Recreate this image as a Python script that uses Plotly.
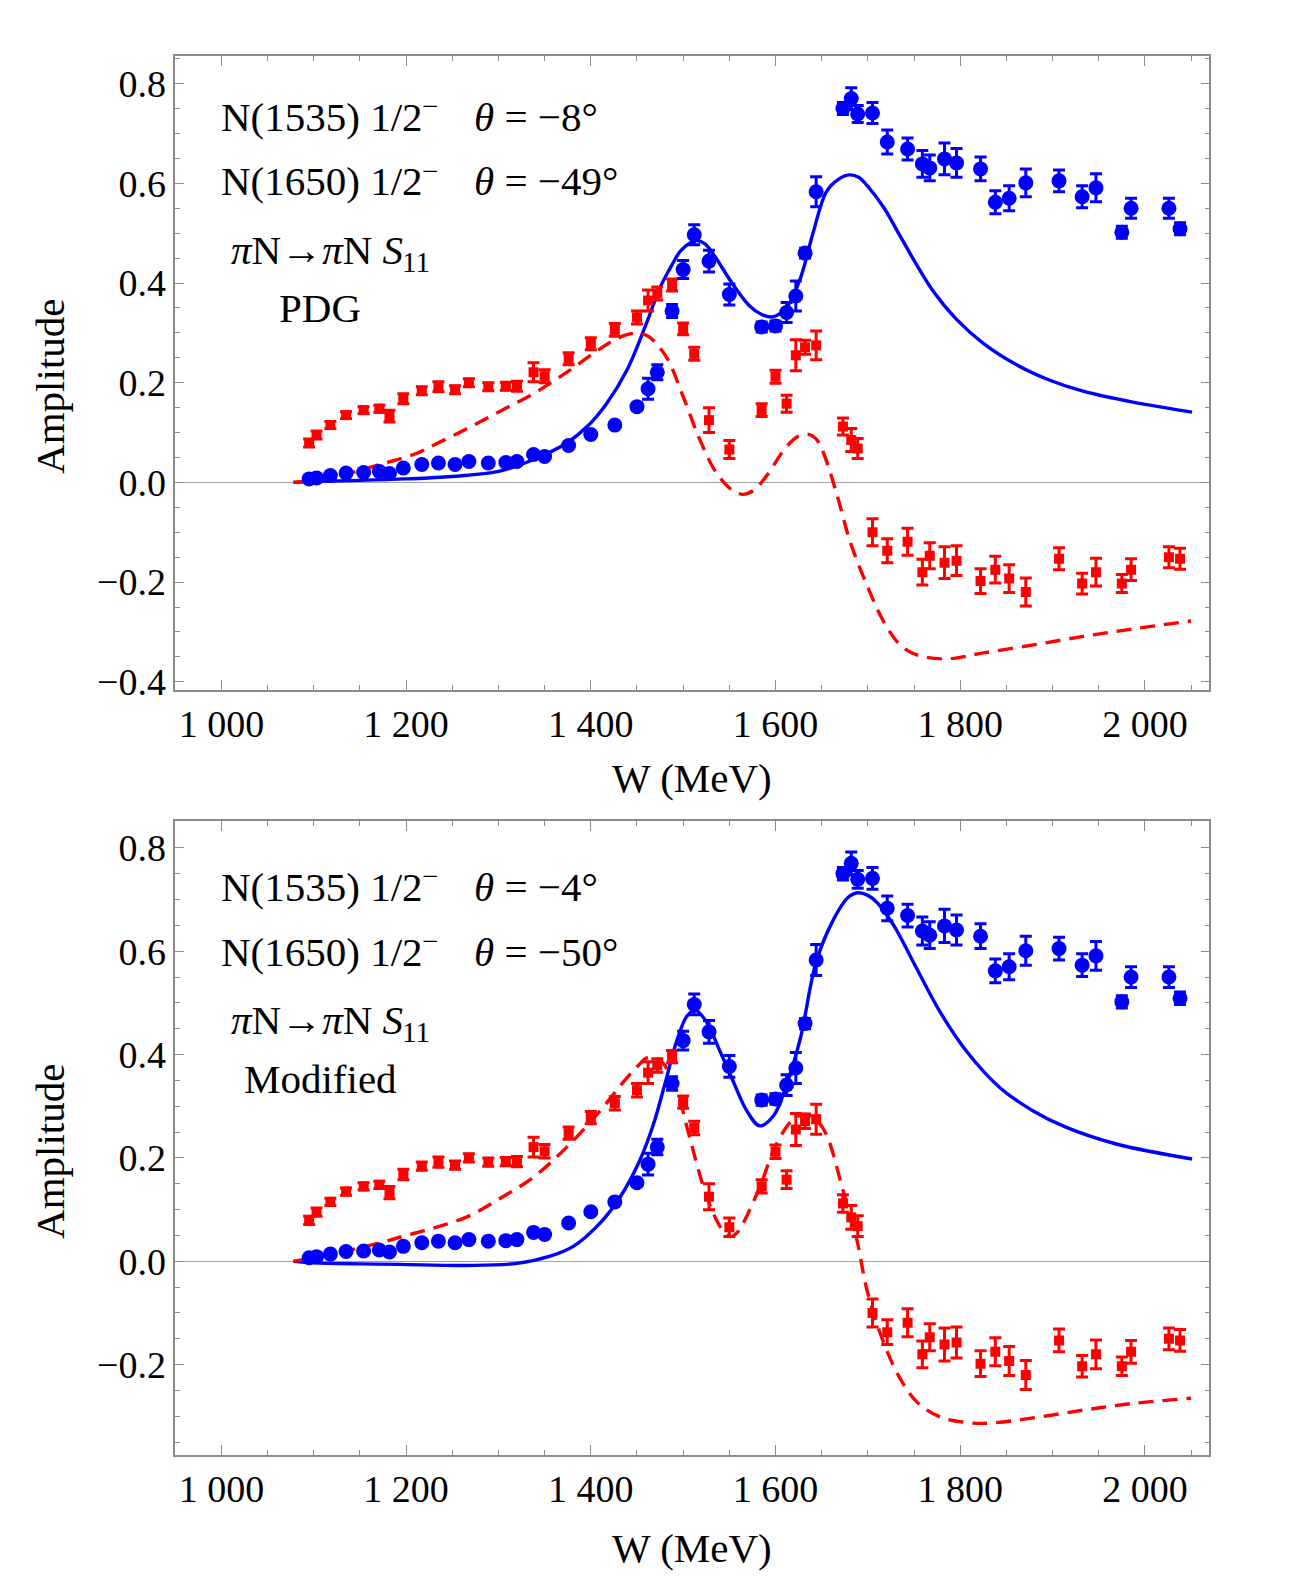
import plotly.graph_objects as go

# ---------------- data ----------------
W_data = [1095, 1103, 1118, 1135, 1154, 1171, 1182, 1197, 1217, 1235, 1253, 1268, 1289, 1308,
          1320, 1338, 1350, 1376, 1400, 1426, 1450, 1462, 1472, 1488, 1500, 1512, 1528, 1550,
          1585, 1600, 1612, 1622, 1632, 1644, 1673, 1682, 1689, 1705, 1721, 1743, 1759, 1767,
          1783, 1796, 1822, 1838, 1853, 1871, 1907, 1932, 1947, 1975, 1985, 2026, 2038]

im_data = [0.007, 0.009, 0.014, 0.019, 0.020, 0.022, 0.018, 0.029, 0.036, 0.039, 0.036, 0.042,
           0.039, 0.040, 0.042, 0.056, 0.052, 0.074, 0.096, 0.115, 0.152, 0.188, 0.221, 0.344,
           0.427, 0.497, 0.444, 0.377, 0.312, 0.314, 0.341, 0.374, 0.460, 0.583, 0.750, 0.770,
           0.739, 0.741, 0.683, 0.669, 0.639, 0.631, 0.649, 0.641, 0.629, 0.562, 0.570, 0.601,
           0.605, 0.573, 0.591, 0.502, 0.550, 0.550, 0.509]
im_err = [0.004] * 20 + [0.006, 0.021, 0.015, 0.013, 0.018, 0.020, 0.022, 0.021, 0.010, 0.010,
                         0.020, 0.030, 0.010, 0.030, 0.012, 0.022, 0.017, 0.021, 0.024, 0.022,
                         0.027, 0.026, 0.032, 0.029, 0.024, 0.023, 0.025, 0.028, 0.022, 0.022,
                         0.028, 0.012, 0.020, 0.020, 0.012]

re_data = [0.079, 0.095, 0.115, 0.135, 0.145, 0.148, 0.133, 0.168, 0.184, 0.192, 0.186, 0.200,
           0.192, 0.193, 0.193, 0.221, 0.213, 0.248, 0.278, 0.306, 0.331, 0.365, 0.379, 0.396,
           0.308, 0.258, 0.125, 0.066, 0.145, 0.212, 0.158, 0.255, 0.271, 0.275, 0.112, 0.085,
           0.068, -0.100, -0.137, -0.119, -0.180, -0.147, -0.161, -0.157, -0.198, -0.175, -0.193,
           -0.220, -0.153, -0.203, -0.180, -0.203, -0.175, -0.150, -0.153]
re_err = [0.008, 0.008, 0.007, 0.007, 0.007, 0.007, 0.012, 0.010, 0.008, 0.010, 0.008, 0.008,
          0.008, 0.008, 0.010, 0.019, 0.013, 0.012, 0.012, 0.013, 0.013, 0.021, 0.013, 0.012,
          0.012, 0.013, 0.025, 0.018, 0.013, 0.013, 0.017, 0.031, 0.014, 0.029, 0.017, 0.023,
          0.020, 0.027, 0.024, 0.027, 0.026, 0.026, 0.032, 0.030, 0.025, 0.027, 0.028, 0.028,
          0.022, 0.021, 0.028, 0.018, 0.022, 0.021, 0.021]

# PDG model curves (top panel)
W_pdg_im = [1078, 1100, 1150, 1200, 1250, 1300, 1338, 1374, 1396, 1417, 1439, 1460, 1475, 1486,
            1497, 1507, 1515, 1524, 1533, 1554, 1572, 1585, 1597, 1612, 1627, 1641, 1655, 1668,
            1680, 1690, 1699, 1717, 1735, 1753, 1771, 1796, 1825, 1861, 1897, 1933, 1987, 2051]
pdg_im = [0.000, 0.002, 0.004, 0.007, 0.012, 0.022, 0.046, 0.079, 0.112, 0.158, 0.225, 0.318,
          0.391, 0.430, 0.464, 0.480, 0.485, 0.478, 0.457, 0.397, 0.354, 0.337, 0.332, 0.351,
          0.410, 0.503, 0.583, 0.608, 0.617, 0.612, 0.596, 0.552, 0.494, 0.436, 0.383, 0.327,
          0.279, 0.236, 0.205, 0.183, 0.161, 0.141]
W_pdg_re = [1078, 1125, 1172, 1211, 1229, 1266, 1302, 1338, 1374, 1410, 1430, 1446, 1455, 1464,
            1482, 1500, 1518, 1536, 1554, 1565, 1577, 1590, 1612, 1625, 1635, 1645, 1652, 1666,
            1681, 1699, 1717, 1735, 1753, 1785, 1825, 1879, 1933, 1987, 2050]
pdg_re = [0.000, 0.0125, 0.036, 0.058, 0.074, 0.108, 0.143, 0.178, 0.221, 0.268, 0.290, 0.299,
          0.298, 0.291, 0.251, 0.172, 0.086, 0.019, -0.017, -0.024, -0.015, 0.0125, 0.072, 0.093,
          0.097, 0.085, 0.059, -0.021, -0.120, -0.206, -0.279, -0.326, -0.346, -0.354, -0.342,
          -0.326, -0.309, -0.294, -0.278]

# Modified model curves (bottom panel)
W_mod_im = [1078, 1100, 1150, 1193, 1266, 1320, 1356, 1381, 1410, 1432, 1453, 1468, 1482, 1493,
            1504, 1513, 1525, 1540, 1554, 1569, 1583, 1598, 1612, 1627, 1644, 1663, 1678, 1689,
            1700, 1710, 1728, 1753, 1778, 1807, 1843, 1879, 1915, 1969, 2051]
mod_im = [0.000, -0.003, -0.005, -0.006, -0.008, -0.004, 0.010, 0.029, 0.074, 0.125, 0.195,
          0.266, 0.355, 0.426, 0.474, 0.486, 0.464, 0.406, 0.349, 0.291, 0.262, 0.282, 0.342,
          0.432, 0.579, 0.662, 0.703, 0.713, 0.708, 0.694, 0.650, 0.566, 0.483, 0.406, 0.336,
          0.291, 0.259, 0.227, 0.198]
W_mod_re = [1078, 1125, 1172, 1200, 1229, 1266, 1302, 1338, 1374, 1410, 1439, 1452, 1460, 1470,
            1478, 1493, 1507, 1522, 1536, 1545, 1551, 1558, 1565, 1583, 1601, 1619, 1630, 1637,
            1645, 1655, 1673, 1688, 1699, 1717, 1735, 1753, 1778, 1807, 1832, 1879, 1933, 1987,
            2050]
mod_re = [0.000, 0.016, 0.036, 0.050, 0.064, 0.086, 0.122, 0.163, 0.221, 0.291, 0.355, 0.380,
          0.393, 0.393, 0.384, 0.330, 0.240, 0.144, 0.080, 0.055, 0.048, 0.055, 0.074, 0.144,
          0.227, 0.275, 0.284, 0.282, 0.272, 0.246, 0.138, 0.042, -0.055, -0.157, -0.227, -0.272,
          -0.301, -0.312, -0.313, -0.303, -0.288, -0.275, -0.265]

x_tickvals = [1000, 1200, 1400, 1600, 1800, 2000]
x_ticktext = ["1 000", "1 200", "1 400", "1 600", "1 800", "2 000"]
y_tickvals = [-0.4, -0.2, 0.0, 0.2, 0.4, 0.6, 0.8]
y_ticktext = ["\u22120.4", "\u22120.2", "0.0", "0.2", "0.4", "0.6", "0.8"]

panel_labels = [
    ("N(1535) 1/2", "<i>\u03b8</i> = \u22128\u00b0",
     "N(1650) 1/2", "<i>\u03b8</i> = \u221249\u00b0", "PDG"),
    ("N(1535) 1/2", "<i>\u03b8</i> = \u22124\u00b0",
     "N(1650) 1/2", "<i>\u03b8</i> = \u221250\u00b0", "Modified"),
]
process_label = "<i>\u03c0</i>N\u2192<i>\u03c0</i>N <i>S</i>"
process_sub = "11"
parity_sup = "\u2212"

# ---------------- figure ----------------
FW, FH = 1303, 1578
FONT = "Liberation Serif, Times New Roman, serif"
BLUE = "#0000ff"
RED = "#ff0000"
FRAME = "#8c8c8c"


def px_x(p):
    return p / FW


def px_y(p):
    return 1 - p / FH


panels = [
    dict(top=56.7, bottom=695.5, yr=[-0.416, 0.855], shift=0,
         curves=(W_pdg_im, pdg_im, W_pdg_re, pdg_re)),
    dict(top=828.3, bottom=1466.7, yr=[-0.374, 0.851], shift=5,
         curves=(W_mod_im, mod_im, W_mod_re, mod_re)),
]

fig = go.Figure()
annotations = []
for i, p in enumerate(panels):
    xa = "x" if i == 0 else "x2"
    ya = "y" if i == 0 else "y2"
    wi, ci, wr, cr = p["curves"]
    fig.add_trace(go.Scatter(x=wi, y=ci, mode="lines", line=dict(color=BLUE, width=3.4, shape="spline"),
                             xaxis=xa, yaxis=ya, hoverinfo="skip"))
    fig.add_trace(go.Scatter(x=wr, y=cr, mode="lines",
                             line=dict(color=RED, width=3.4, dash="15px,9px", shape="spline"),
                             xaxis=xa, yaxis=ya, hoverinfo="skip"))
    fig.add_trace(go.Scatter(x=W_data, y=re_data, mode="markers",
                             marker=dict(symbol="square", size=10, color=RED),
                             error_y=dict(type="data", array=re_err, color=RED, thickness=3, width=6),
                             xaxis=xa, yaxis=ya))
    fig.add_trace(go.Scatter(x=W_data, y=im_data, mode="markers",
                             marker=dict(symbol="circle", size=15, color=BLUE),
                             error_y=dict(type="data", array=im_err, color=BLUE, thickness=3, width=6),
                             xaxis=xa, yaxis=ya))

    axis_common = dict(showline=True, linecolor=FRAME, linewidth=1.5, mirror="allticks",
                       ticks="inside", tickcolor=FRAME, tickwidth=1.2, showgrid=False,
                       tickfont=dict(family=FONT, size=38, color="black"))
    xkey = "xaxis" if i == 0 else "xaxis2"
    ykey = "yaxis" if i == 0 else "yaxis2"
    fig.update_layout(**{
        xkey: dict(domain=[px_x(175.4), px_x(1209.3)], range=[950.2, 2069.7], anchor=ya,
                   tickmode="array", tickvals=x_tickvals, ticktext=x_ticktext, ticklen=10,
                   zeroline=False,
                   minor=dict(tickmode="linear", tick0=1000, dtick=50, ticklen=5, ticks="inside",
                              tickcolor=FRAME, tickwidth=1.2, showgrid=False),
                   **axis_common),
        ykey: dict(domain=[px_y(p["bottom"]), px_y(p["top"])], range=p["yr"], anchor=xa,
                   tickmode="array", tickvals=y_tickvals, ticktext=y_ticktext, ticklen=9,
                   zeroline=True, zerolinecolor="#a0a0a0", zerolinewidth=1.2,
                   minor=dict(tickmode="linear", tick0=0, dtick=0.05, ticklen=5, ticks="inside",
                              tickcolor=FRAME, tickwidth=1.2, showgrid=False),
                   **axis_common),
    })

    off = p["top"] - 56.7 + p["shift"]
    l1, t1, l2, t2, tag = panel_labels[i]
    tf = dict(family=FONT, size=41, color="black")
    sf = dict(family=FONT, size=29, color="black")
    items = [
        (l1, 219, 118, "left", tf),
        (parity_sup, 420, 107, "left", sf),
        (t1, 472, 118, "left", tf),
        (l2, 219, 183, "left", tf),
        (parity_sup, 420, 172, "left", sf),
        (t2, 472, 183, "left", tf),
        (process_label, 229, 252, "left", tf),
        (process_sub, 400, 264, "left", sf),
        (tag, 320, 311, "center", tf),
    ]
    for text, x, y, xanchor, font in items:
        annotations.append(dict(text=text, x=px_x(x), y=px_y(y + off), xref="paper", yref="paper",
                                xanchor=xanchor, yanchor="middle", showarrow=False, font=font))
    # axis titles
    annotations.append(dict(text="Amplitude", x=px_x(50), y=px_y((p["top"] + p["bottom"]) / 2 + 14),
                            xref="paper", yref="paper", xanchor="center", yanchor="middle",
                            textangle=-90, showarrow=False, font=tf))
    annotations.append(dict(text="W (MeV)", x=px_x(692.4), y=px_y(p["bottom"] + 89 + p["shift"]),
                            xref="paper", yref="paper", xanchor="center", yanchor="middle",
                            showarrow=False, font=tf))

fig.update_layout(width=FW, height=FH, margin=dict(l=0, r=0, t=0, b=0),
                  paper_bgcolor="white", plot_bgcolor="white", showlegend=False,
                  annotations=annotations, font=dict(family=FONT))

fig.write_html("out.html")
